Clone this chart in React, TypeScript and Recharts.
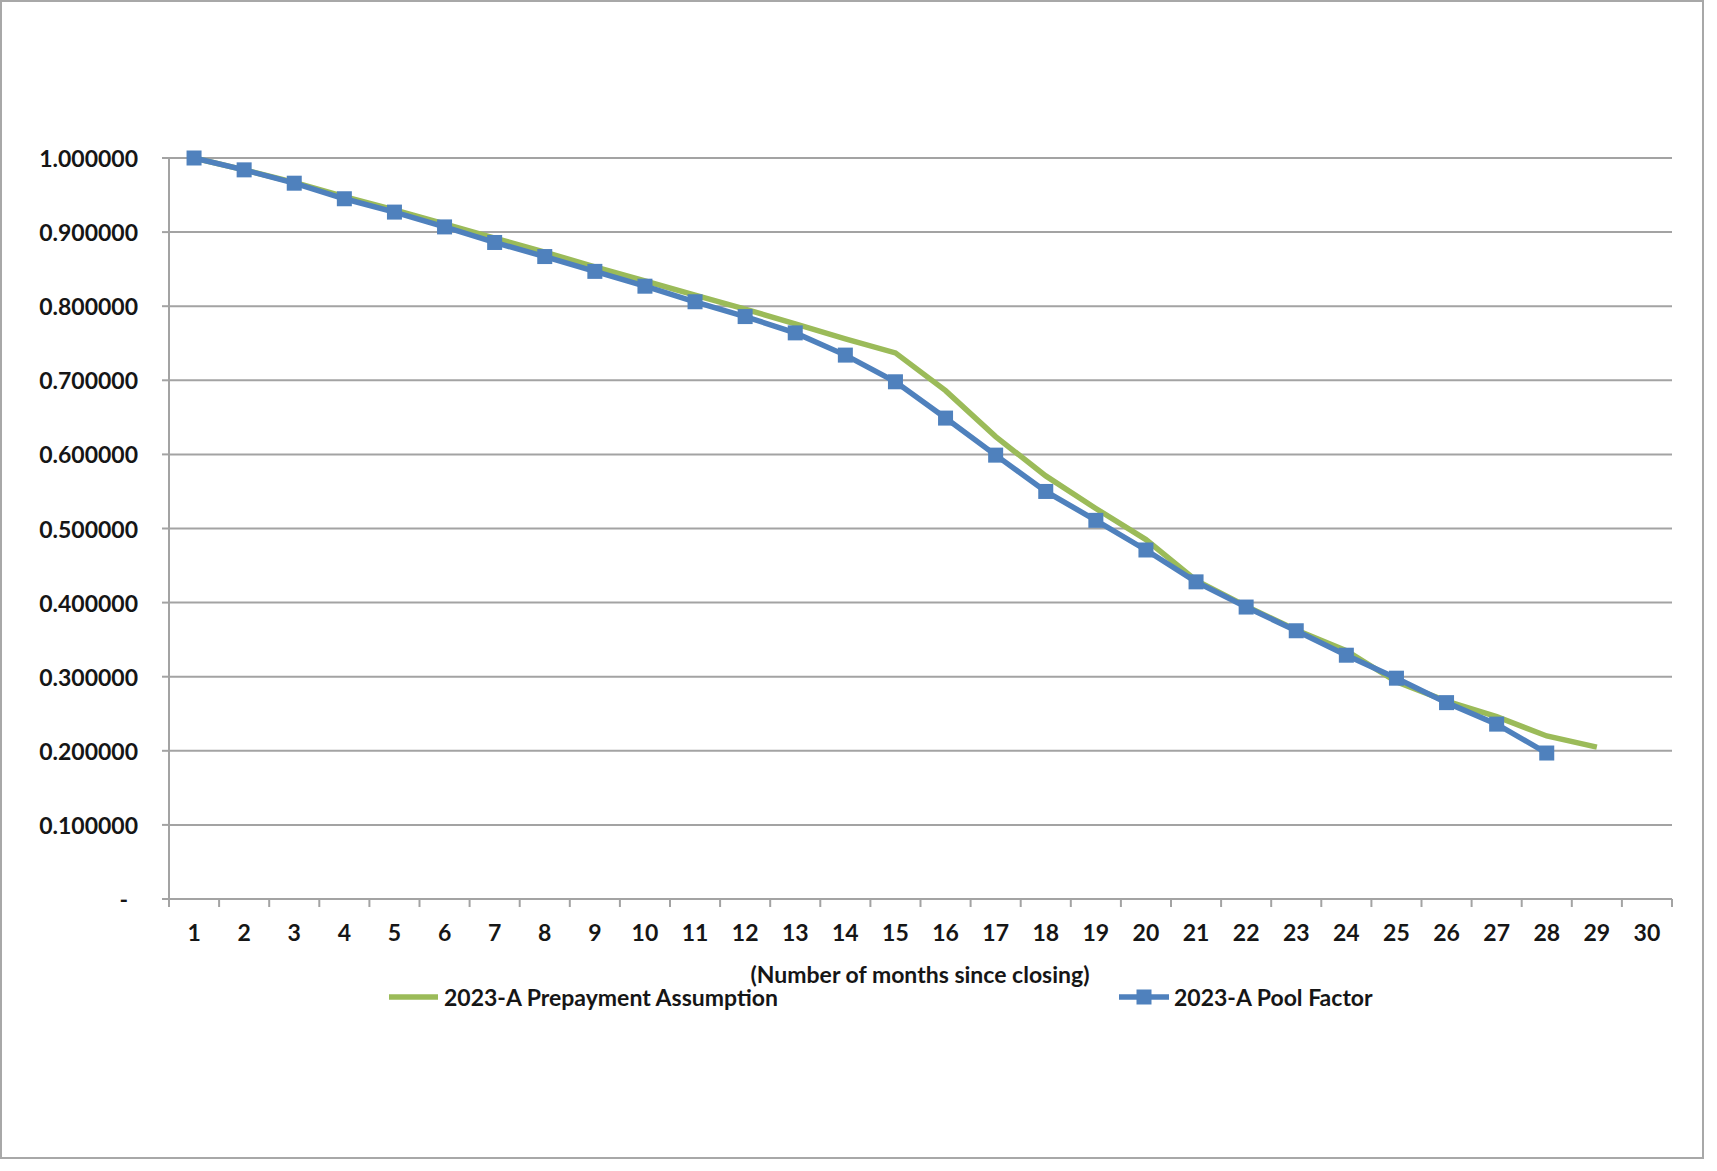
import React from "react";
import { LineChart, Line, XAxis, YAxis, CartesianGrid } from "recharts";

const months = [1, 2, 3, 4, 5, 6, 7, 8, 9, 10, 11, 12, 13, 14, 15, 16, 17, 18, 19, 20, 21, 22, 23, 24, 25, 26, 27, 28, 29, 30];
const poolFactor = [1.0, 0.984, 0.966, 0.945, 0.927, 0.907, 0.886, 0.867, 0.847, 0.827, 0.806, 0.786, 0.764, 0.734, 0.698, 0.649, 0.599, 0.55, 0.511, 0.471, 0.428, 0.394, 0.362, 0.329, 0.298, 0.265, 0.236, 0.197];
const prepayment = [1.0, 0.984, 0.967, 0.948, 0.93, 0.911, 0.892, 0.873, 0.853, 0.834, 0.815, 0.796, 0.776, 0.756, 0.737, 0.686, 0.624, 0.571, 0.527, 0.485, 0.43, 0.395, 0.363, 0.335, 0.293, 0.267, 0.246, 0.22, 0.205];
const yTicks = [0, 0.1, 0.2, 0.3, 0.4, 0.5, 0.6, 0.7, 0.8, 0.9, 1.0];
const seriesNames = ["2023-A Prepayment Assumption", "2023-A Pool Factor"];
const xTitle = "(Number of months since closing)";

const data = months.map((m, i) => ({
  month: m,
  prep: i < prepayment.length ? prepayment[i] : null,
  pool: i < poolFactor.length ? poolFactor[i] : null,
}));

const W = 1717;
const H = 1171;
const X_H = 30;
const M = { top: 158, right: 45, bottom: 272 - X_H, left: 0 };
const Y_W = 169;
const HALF_STEP = (W - M.right - Y_W) / months.length / 2;
const FONT = "Lato, 'Open Sans', sans-serif";
const FS = 23;
const TXT = "#161616";
const GRID = "#a3a3a3";
const GREEN = "#9bbb59";
const BLUE = "#4f81bd";

const XTick = (props: any) => {
  const { x, y, payload } = props;
  return (
    <g>
      <line x1={x - HALF_STEP} y1={y} x2={x - HALF_STEP} y2={y + 8} stroke={GRID} strokeWidth={2} />
      {payload.value === months[months.length - 1] && (
        <line x1={x + HALF_STEP} y1={y} x2={x + HALF_STEP} y2={y + 8} stroke={GRID} strokeWidth={2} />
      )}
      <text x={x} y={y + 33} textAnchor="middle" dominantBaseline="central" fontFamily={FONT} fontWeight={700} fontSize={FS} fill={TXT}>
        {payload.value}
      </text>
    </g>
  );
};

const YTick = (props: any) => {
  const { x, y, payload } = props;
  const v = payload.value;
  const label = v === 0 ? "-" : v.toFixed(6);
  return (
    <text x={v === 0 ? x - 10 : x} y={y} textAnchor="end" dominantBaseline="central" fontFamily={FONT} fontWeight={700} fontSize={FS} fill={TXT}>
      {label}
    </text>
  );
};

const SquareDot = (props: any) => {
  const { cx, cy, index } = props;
  if (cx == null || cy == null) return <g key={`d${index}`} />;
  return <rect key={`d${index}`} x={cx - 7.5} y={cy - 7.5} width={15} height={15} fill={BLUE} />;
};

export default function App() {
  return (
    <div style={{ position: "absolute", left: 0, top: 0, width: W, height: H, background: "#fff", fontFamily: FONT }}>
      <div
        style={{
          position: "absolute",
          left: 0,
          top: 0,
          width: 1704,
          height: 1159,
          boxSizing: "border-box",
          border: "2px solid #a8a8a8",
        }}
      />
      <div style={{ position: "absolute", left: 0, top: 0 }}>
        <LineChart width={W} height={H} data={data} margin={M}>
          <CartesianGrid horizontal vertical={false} stroke={GRID} strokeWidth={2} />
          <XAxis
            dataKey="month"
            type="number"
            domain={[0.5, 30.5]}
            ticks={months}
            allowDataOverflow
            interval={0}
            height={X_H}
            axisLine={{ stroke: GRID, strokeWidth: 2 }}
            tickLine={false}
            tickSize={0}
            tickMargin={0}
            tick={<XTick />}
          />
          <YAxis
            type="number"
            domain={[0, 1]}
            ticks={yTicks}
            width={Y_W}
            interval={0}
            axisLine={{ stroke: GRID, strokeWidth: 2 }}
            tickLine={{ stroke: GRID, strokeWidth: 2 }}
            tickSize={7}
            tickMargin={24}
            tick={<YTick />}
          />
          <Line
            dataKey="prep"
            name={seriesNames[0]}
            stroke={GREEN}
            strokeWidth={5.5}
            dot={false}
            isAnimationActive={false}
            connectNulls={false}
          />
          <Line
            dataKey="pool"
            name={seriesNames[1]}
            stroke={BLUE}
            strokeWidth={5.5}
            dot={<SquareDot />}
            activeDot={false}
            isAnimationActive={false}
            connectNulls={false}
          />
        </LineChart>
      </div>
      <div
        style={{
          position: "absolute",
          left: 920 - 300,
          width: 600,
          top: 974 - 14,
          height: 28,
          lineHeight: "28px",
          textAlign: "center",
          fontWeight: 700,
          fontSize: FS,
          color: TXT,
        }}
      >
        {xTitle}
      </div>
      <div style={{ position: "absolute", left: 389, top: 997 - 14, height: 28, display: "flex", alignItems: "center" }}>
        <svg width={50} height={28}>
          <line x1={0} y1={14} x2={49} y2={14} stroke={GREEN} strokeWidth={5.5} />
        </svg>
        <span style={{ marginLeft: 5, fontWeight: 700, fontSize: FS, color: TXT, lineHeight: "28px" }}>{seriesNames[0]}</span>
      </div>
      <div style={{ position: "absolute", left: 1119, top: 997 - 14, height: 28, display: "flex", alignItems: "center" }}>
        <svg width={50} height={28}>
          <line x1={0} y1={14} x2={50} y2={14} stroke={BLUE} strokeWidth={5.5} />
          <rect x={17.5} y={6.5} width={15} height={15} fill={BLUE} />
        </svg>
        <span style={{ marginLeft: 5, fontWeight: 700, fontSize: FS, color: TXT, lineHeight: "28px" }}>{seriesNames[1]}</span>
      </div>
    </div>
  );
}
